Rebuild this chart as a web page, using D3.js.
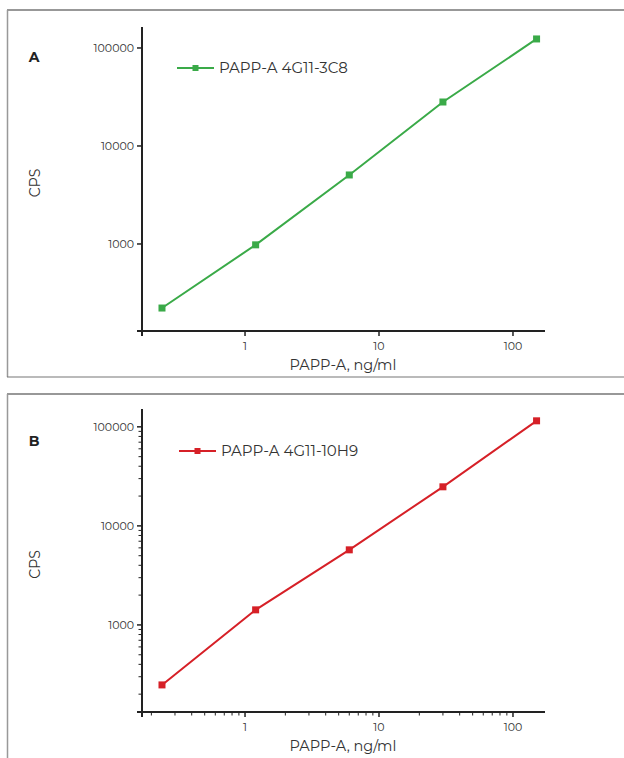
<!DOCTYPE html>
<html><head><meta charset="utf-8">
<script src="https://cdn.jsdelivr.net/npm/d3@7"></script>
<style>body{margin:0;background:#fff}svg{display:block}text{font-family:"Montserrat","Inter","Lato",sans-serif;fill:#333}</style>
</head><body><div id="c"></div>
<script>
const concentrations = [0.24, 1.2, 6, 30, 150];
const cpsA = [222, 980, 5060, 28100, 123600];
const cpsB = [248, 1420, 5730, 24800, 115000];
const seriesNames = ["PAPP-A 4G11-3C8", "PAPP-A 4G11-10H9"];
const panelLetters = ["A", "B"];
const yTickValues = [1000, 10000, 100000];
const xTickValues = [1, 10, 100];
const colors = ["#3aaa48", "#d62027"];

const W = 624, H = 758;
const svg = d3.select("#c").append("svg").attr("width", W).attr("height", H);

const panels = [
  {top: 10, bottom: 377, yTop: 27, axisY: 331, yDomTop: Math.pow(10,5.214), yDomBot: Math.pow(10,2.112), data: cpsA, minor: false, legY: 68, legX: 177},
  {top: 394, bottom: null, yTop: 409, axisY: 712, yDomTop: Math.pow(10,5.18), yDomBot: Math.pow(10,2.121), data: cpsB, minor: true, legY: 451, legX: 179}
];

panels.forEach((p, i) => {
  const g = svg.append("g");
  g.append("line").attr("x1", 7).attr("x2", W).attr("y1", p.top).attr("y2", p.top).attr("stroke", "#333").attr("stroke-width", 1.2);
  g.append("line").attr("x1", 7.5).attr("x2", 7.5).attr("y1", p.top).attr("y2", p.bottom === null ? H : p.bottom).attr("stroke", "#999").attr("stroke-width", 1.5);
  if (p.bottom !== null) g.append("line").attr("x1", 7).attr("x2", W).attr("y1", p.bottom).attr("y2", p.bottom).attr("stroke", "#777").attr("stroke-width", 1.2);

  const x = d3.scaleLog().domain([Math.pow(10, -0.769), Math.pow(10, 2.239)]).range([142, 545]);
  const y = d3.scaleLog().domain([p.yDomBot, p.yDomTop]).range([p.axisY, p.yTop]);

  g.append("line").attr("x1", 137).attr("x2", 545).attr("y1", p.axisY).attr("y2", p.axisY).attr("stroke", "#222").attr("stroke-width", 2);
  g.append("line").attr("x1", 142).attr("x2", 142).attr("y1", p.yTop).attr("y2", p.axisY + 5).attr("stroke", "#222").attr("stroke-width", 2);

  yTickValues.forEach(v => {
    g.append("line").attr("x1", 137).attr("x2", 142).attr("y1", y(v)).attr("y2", y(v)).attr("stroke", "#222").attr("stroke-width", 1.5);
    g.append("text").attr("x", 134).attr("y", y(v)).attr("dy", "0.35em").attr("text-anchor", "end").attr("font-size", 11).text(v);
  });
  xTickValues.forEach(v => {
    g.append("line").attr("x1", x(v)).attr("x2", x(v)).attr("y1", p.axisY).attr("y2", p.axisY + 5).attr("stroke", "#222").attr("stroke-width", 1.5);
    g.append("text").attr("x", x(v)).attr("y", p.axisY + 19).attr("text-anchor", "middle").attr("font-size", 11).text(v);
  });
  if (p.minor) {
    const yMinor = y.ticks().filter(v => !yTickValues.includes(v));
    yMinor.forEach(v => {
      g.append("line").attr("x1", 138.5).attr("x2", 142).attr("y1", y(v)).attr("y2", y(v)).attr("stroke", "#222").attr("stroke-width", 1);
    });
    const xMinor = x.ticks().filter(v => !xTickValues.includes(v));
    xMinor.forEach(v => {
      g.append("line").attr("x1", x(v)).attr("x2", x(v)).attr("y1", p.axisY).attr("y2", p.axisY + 3.5).attr("stroke", "#222").attr("stroke-width", 1);
    });
  }

  g.append("text").attr("x", 34).attr("y", p.top + 52).attr("text-anchor", "middle").attr("font-size", 14).attr("font-weight", "bold").style("fill", "#222").text(panelLetters[i]);
  const cy = (p.yTop + p.axisY) / 2 + 4;
  g.append("text").attr("transform", `translate(40,${cy}) rotate(-90)`).attr("text-anchor", "middle").attr("font-size", 14).text("CPS");
  g.append("text").attr("x", 343).attr("y", p.axisY + 39).attr("text-anchor", "middle").attr("font-size", 14.5).text("PAPP-A, ng/ml");

  const pts = concentrations.map((c, k) => [c, p.data[k]]);
  g.append("path").datum(pts).attr("fill", "none").attr("stroke", colors[i]).attr("stroke-width", 2)
    .attr("d", d3.line().x(d => x(d[0])).y(d => y(d[1])));
  g.selectAll("rect.m").data(pts).enter().append("rect")
    .attr("x", d => x(d[0]) - 3.5).attr("y", d => y(d[1]) - 3.5).attr("width", 7).attr("height", 7).attr("fill", colors[i]);

  g.append("line").attr("x1", p.legX).attr("x2", p.legX + 37).attr("y1", p.legY).attr("y2", p.legY).attr("stroke", colors[i]).attr("stroke-width", 2);
  g.append("rect").attr("x", p.legX + 18.5 - 3).attr("y", p.legY - 3).attr("width", 6).attr("height", 6).attr("fill", colors[i]);
  g.append("text").attr("x", p.legX + 42).attr("y", p.legY).attr("dy", "0.36em").attr("font-size", 15).text(seriesNames[i]);
});
</script></body></html>
